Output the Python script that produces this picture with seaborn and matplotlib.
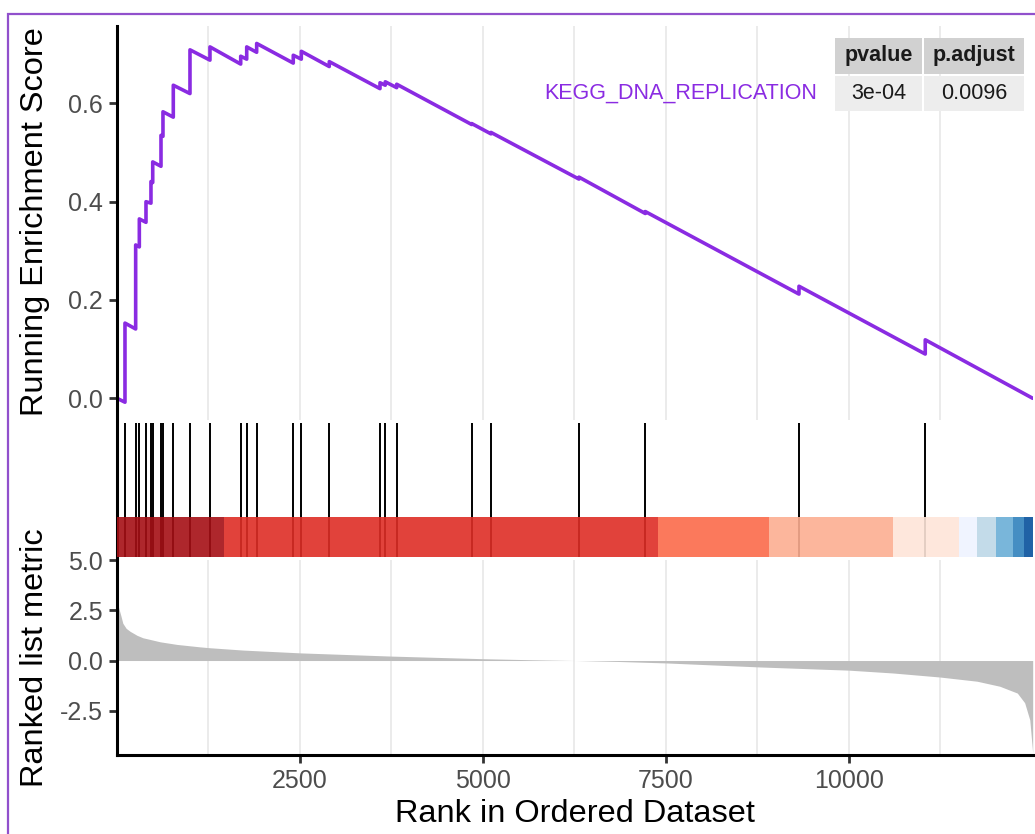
import matplotlib
matplotlib.use("Agg")
import matplotlib.pyplot as plt
from matplotlib.patches import Rectangle
import seaborn as sns
import pandas as pd

# figure size in pixels
W, H = 1035, 834

n_genes = 12510
gene_set = "KEGG_DNA_REPLICATION"
table_header = ["pvalue", "p.adjust"]
table_values = ["3e-04", "0.0096"]

# ranks of the gene-set hits and the running ES just before / after each hit
hit_rank = [109, 255, 305, 396, 464, 488, 601, 628, 769, 997, 1270, 1690, 1772,
            1908, 2408, 2518, 2900, 3593, 3665, 3821, 4846, 5109, 6311, 7217,
            9317, 11042]
es_before = [-0.008, 0.141, 0.308, 0.358, 0.397, 0.439, 0.472, 0.533, 0.572,
             0.620, 0.688, 0.680, 0.690, 0.704, 0.682, 0.690, 0.675, 0.630,
             0.637, 0.632, 0.557, 0.538, 0.446, 0.376, 0.212, 0.090]
es_after = [0.153, 0.312, 0.365, 0.400, 0.441, 0.481, 0.535, 0.583, 0.637,
            0.709, 0.715, 0.696, 0.715, 0.722, 0.698, 0.706, 0.685, 0.642,
            0.644, 0.639, 0.559, 0.541, 0.450, 0.380, 0.228, 0.119]

# ranked list metric (read at a few ranks)
metric_rank = [1, 25, 55, 80, 125, 180, 275, 355, 450, 590, 820, 1130, 1250,
               1720, 2500, 3750, 5000, 5640, 6260, 6870, 7500, 8780, 10000,
               10600, 11240, 11750, 12060, 12300, 12400, 12470, 12510]
metric_value = [3.0, 2.6, 2.2, 1.85, 1.6, 1.45, 1.25, 1.13, 1.05, 0.93, 0.80,
                0.68, 0.64, 0.52, 0.38, 0.22, 0.09, 0.04, 0.0, -0.05, -0.12,
                -0.32, -0.48, -0.62, -0.82, -1.03, -1.28, -1.62, -2.1, -2.95,
                -4.6]

# colour bar segments along the ranked list
bar_edges = [0, 1462, 7390, 8906, 10600, 11502, 11748, 12008, 12240, 12390, 12510]
bar_colors = ["#A50F15", "#DE2D26", "#FB6A4A", "#FCAE91", "#FEE5D9",
              "#EFF3FF", "#BDD7E7", "#6BAED6", "#3182BD", "#08519C"]

es_color = "#8A2BE2"

sns.set_theme(style="white")
plt.rcParams["font.family"] = ["Liberation Sans", "DejaVu Sans"]
plt.rcParams["axes.unicode_minus"] = False

es_x = [0]
es_y = [0.0]
for r, b, a in zip(hit_rank, es_before, es_after):
    es_x += [r, r]
    es_y += [b, a]
es_x.append(n_genes)
es_y.append(0.0)
es_df = pd.DataFrame({"rank": es_x, "es": es_y})
metric_df = pd.DataFrame({"rank": metric_rank, "metric": metric_value})

fig = plt.figure(figsize=(W / 100, H / 100), dpi=100)


def box(top_px, bottom_px, left_px=117, right_px=1032.7):
    return [left_px / W, 1 - bottom_px / H, (right_px - left_px) / W,
            (bottom_px - top_px) / H]


ax1 = fig.add_axes(box(25.5, 420.4))
ax2 = fig.add_axes(box(423, 557))
ax3 = fig.add_axes(box(560, 755))

major = [2500, 5000, 7500, 10000]
minor = [1250, 3750, 6250, 8750, 11250]
tick_col = "#4D4D4D"

for ax in (ax1, ax2, ax3):
    ax.set_xlim(0, n_genes)
    for s in ("top", "right"):
        ax.spines[s].set_visible(False)
    ax.spines["left"].set_color("black")
    ax.spines["left"].set_linewidth(2.2)
    ax.spines["bottom"].set_color("black")
    ax.spines["bottom"].set_linewidth(2.2)
    ax.set_xlabel("")
    ax.set_ylabel("")

for ax in (ax1, ax3):
    ax.set_xticks(major)
    ax.set_xticks(minor, minor=True)
    ax.grid(axis="x", which="both", color="#EBEBEB", lw=1.4)
    ax.set_axisbelow(True)

# running enrichment score
sns.lineplot(data=es_df, x="rank", y="es", sort=False, estimator=None,
             color=es_color, lw=2.6, ax=ax1)
ax1.set_ylim(-0.045, 0.7585)
ax1.set_xlim(0, n_genes)
ax1.set_yticks([0.0, 0.2, 0.4, 0.6])
ax1.set_yticklabels(["0.0", "0.2", "0.4", "0.6"])
ax1.spines["bottom"].set_visible(False)
ax1.tick_params(axis="x", which="both", length=0, labelbottom=False)
ax1.tick_params(axis="y", length=6, width=2, color="#333333",
                labelsize=18, labelcolor=tick_col, pad=4, left=True)
ax1.set_xlabel("")
ax1.set_ylabel("")

# hits + colour bar (bar drawn over the hit lines)
ax2.vlines(hit_rank, 0, 1, color="black", lw=1.4, zorder=2)
ax2.broken_barh([(bar_edges[i], bar_edges[i + 1] - bar_edges[i])
                 for i in range(len(bar_colors))], (0, 0.3),
                facecolors=bar_colors, alpha=0.9, lw=0, zorder=3)
ax2.set_ylim(0, 1)
ax2.spines["bottom"].set_visible(False)
ax2.set_xticks([])
ax2.set_yticks([])

# ranked list metric
ax3.fill_between(metric_df["rank"], 0, metric_df["metric"], color="#BEBEBE", lw=0)
ax3.set_ylim(-4.7, 5.0)
ax3.set_yticks([5.0, 2.5, 0.0, -2.5])
ax3.set_yticklabels(["5.0", "2.5", "0.0", "-2.5"])
ax3.set_xticklabels([str(v) for v in major])
ax3.tick_params(axis="both", which="major", length=6, width=2, color="#333333",
                labelsize=18, labelcolor=tick_col, pad=4, left=True, bottom=True)
ax3.tick_params(axis="x", which="minor", length=0)

# axis titles
fig.text(35 / W, 1 - 222 / H, "Running Enrichment Score", rotation=90,
         ha="center", va="center", fontsize=23.4, color="black")
fig.text(35 / W, 1 - 658 / H, "Ranked list metric", rotation=90,
         ha="center", va="center", fontsize=23.4, color="black")
fig.text(574.5 / W, 1 - 814 / H, "Rank in Ordered Dataset",
         ha="center", va="center", fontsize=23.4, color="black")

# gene set label
fig.text(817 / W, 1 - 93 / H, gene_set, ha="right", va="center",
         fontsize=15.5, color=es_color)

# p-value table
cols = [(835, 922), (924, 1024)]
rows = [(38, 74), (76, 111)]
for j, (x0, x1) in enumerate(cols):
    for i, (y0, y1) in enumerate(rows):
        fig.add_artist(Rectangle((x0 / W, 1 - y1 / H), (x1 - x0) / W, (y1 - y0) / H,
                                 transform=fig.transFigure,
                                 facecolor="#D1D1D1" if i == 0 else "#EDEDED",
                                 edgecolor="none"))
        txt = table_header[j] if i == 0 else table_values[j]
        fig.text((x0 + x1) / 2 / W, 1 - (y0 + y1) / 2 / H, txt,
                 ha="center", va="center", fontsize=15.5, color="#1A1A1A",
                 fontweight="bold" if i == 0 else "normal")

# purple frame
fig.add_artist(Rectangle((8 / W, -0.1), 1.2, 1.1 - 14 / H,
                         transform=fig.transFigure, fill=False,
                         edgecolor="#9150CC", lw=1.6))

fig.savefig("out.png", dpi=100)
